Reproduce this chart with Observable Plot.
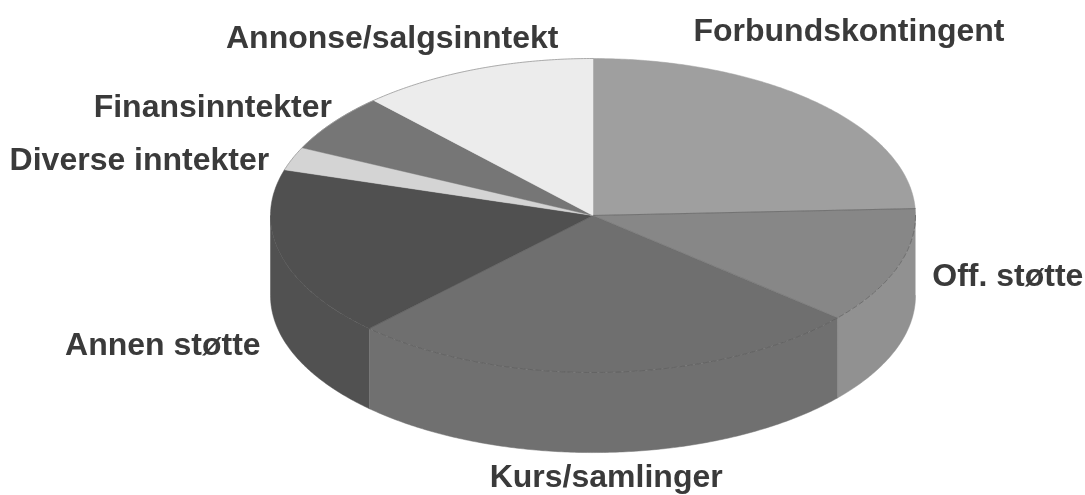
<!DOCTYPE html>
<html><head><meta charset="utf-8">
<script src="https://cdn.jsdelivr.net/npm/d3@7"></script>
<script src="https://cdn.jsdelivr.net/npm/@observablehq/plot@0.6"></script>
<style>html,body{margin:0;padding:0;background:#fff}svg{display:block}</style>
</head><body><div id="chart"></div>
<script>
const categories = ["Forbundskontingent","Off. støtte","Kurs/samlinger","Annen støtte","Diverse inntekter","Finansinntekter","Annonse/salgsinntekt"];
const shares = [24.3, 12.0, 25.9, 17.5, 2.4, 6.0, 11.9];
const topColors = ["#9f9f9f","#878787","#6f6f6f","#505050","#d4d4d4","#767676","#ececec"];
const sideColors = ["#9f9f9f","#919191","#707070","#515151","#d4d4d4","#767676","#ececec"];
const labelDx = [33,110,-2,-118,-153,-120.5,-83];
const labelDy = [-71,9,104,90,1.5,-16,-32];

// pie geometry in units of the top ellipse's radii
const depth = 0.51, W = 1085, H = 495;
const cx = 592.5, cy = 215, rx = 322.5, ry = 157;
let acc = 0;
const slices = categories.map((name,i)=>{
  const a0 = acc/100*2*Math.PI; acc += shares[i];
  const a1 = acc/100*2*Math.PI;
  return {name,i,a0,a1,mid:(a0+a1)/2};
});
const arc = (a0,a1)=>{
  const n = Math.max(2,Math.ceil((a1-a0)/0.01));
  return d3.range(n+1).map(k=>a0+(a1-a0)*k/n);
};
const pt = (a,dz=0)=>({x:Math.sin(a),y:Math.cos(a)-dz});
const topPolys = slices.flatMap(s=>[{x:0,y:0},...arc(s.a0,s.a1).map(a=>pt(a)),{x:0,y:0}]
  .map(p=>({...p,key:s.name,fill:topColors[s.i]})));
const sidePolys = slices.flatMap(s=>{
  const a0 = Math.max(s.a0,Math.PI/2), a1 = Math.min(s.a1,3*Math.PI/2);
  if (a1<=a0) return [];
  const as = arc(a0,a1);
  return [...as.map(a=>pt(a)),...as.slice().reverse().map(a=>pt(a,depth))]
    .map(p=>({...p,key:s.name,fill:sideColors[s.i]}));
});
const frontRim = arc(Math.PI/2,slices[3].a0).map(a=>pt(a));
const backRim = arc(slices[3].a1,2*Math.PI).map(a=>pt(a));
const spoke = [{x:0,y:0},pt(slices[0].a1)];

const labelMarks = slices.map(s=>Plot.text([pt(s.mid)],{
  x:"x",y:"y",text:()=>s.name,dx:labelDx[s.i],dy:labelDy[s.i],
  fontFamily:"Liberation Sans",fontWeight:"bold",fontSize:32,fill:"#3a3a3a",textAnchor:"middle",lineAnchor:"middle"
}));

const chart = Plot.plot({
  width:W,height:H,margin:0,
  x:{axis:null,domain:[(0-cx)/rx,(W-cx)/rx],range:[0,W]},
  y:{axis:null,domain:[(cy-H)/ry,cy/ry],range:[H,0]},
  color:{type:"identity"},
  style:{filter:"blur(0.5px)"},
  marks:[
    Plot.line(sidePolys,{x:"x",y:"y",z:"key",fill:"fill",stroke:"fill",strokeWidth:0.5}),
    Plot.line(topPolys,{x:"x",y:"y",z:"key",fill:"fill",stroke:"fill",strokeWidth:0.5}),
    Plot.line(frontRim,{x:"x",y:"y",stroke:"#555",strokeWidth:0.6,strokeDasharray:"5 3"}),
    Plot.line(backRim,{x:"x",y:"y",stroke:"#999",strokeWidth:0.8}),
    Plot.line(spoke,{x:"x",y:"y",stroke:"#666",strokeWidth:0.7}),
    ...labelMarks
  ]
});
document.getElementById("chart").append(chart);
</script></body></html>
